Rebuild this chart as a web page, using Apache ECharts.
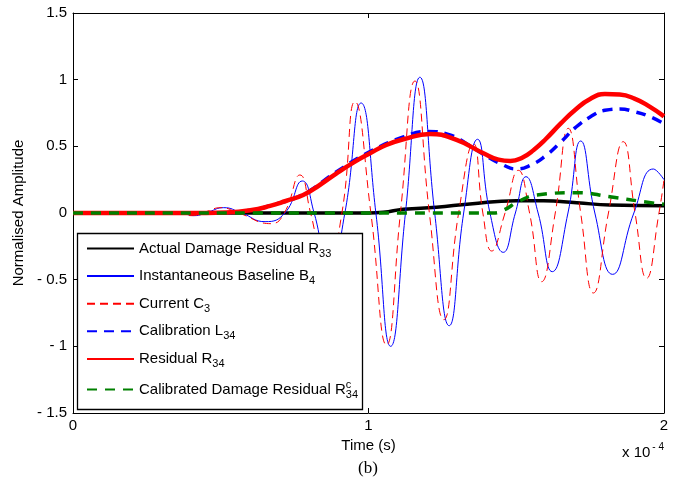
<!DOCTYPE html>
<html>
<head>
<meta charset="utf-8">
<script src="https://cdn.jsdelivr.net/npm/echarts@6/dist/echarts.min.js"></script>
<style>
html,body{margin:0;padding:0;background:#fff;}
#chart{width:677px;height:490px;}
</style>
</head>
<body>
<div id="chart"></div>
<script>
// ---- data (time in units of 1e-4 s) ----
const xTicks = [0, 1, 2];
const yTicks = [-1.5, -1, -0.5, 0, 0.5, 1, 1.5];

const seriesNames = [
  'Actual Damage Residual R33',
  'Instantaneous Baseline B4',
  'Current C3',
  'Calibration L34',
  'Residual R34',
  'Calibrated Damage Residual Rc34'
];

const timeR33 = [0, 1.0, 1.05, 1.118, 1.23, 1.343, 1.5, 1.592, 1.705, 1.817, 2.0];
const ampR33  = [0, 0, 0.005, 0.028, 0.043, 0.068, 0.092, 0.092, 0.077, 0.06, 0.055];

const timeB4 = [0, 0.30, 0.35, 0.41, 0.46, 0.51, 0.57, 0.65, 0.717, 0.776, 0.816, 0.868, 0.92, 0.975, 1.025, 1.075, 1.125, 1.174, 1.224, 1.273, 1.322, 1.369, 1.411, 1.456, 1.497, 1.533, 1.574, 1.622, 1.675, 1.718, 1.766, 1.826, 1.898, 1.964, 2.0];
const ampB4  = [0, 0, 0.01, -0.02, 0.01, 0.04, 0.0, -0.065, 0, 0.24, 0, -0.45, 0, 0.825, 0, -1.0, 0, 1.018, 0, -0.845, 0, 0.553, 0, -0.295, 0, 0.272, 0, -0.44, 0, 0.54, 0, -0.46, 0, 0.33, 0.25];

const timeC3 = [0, 0.30, 0.35, 0.40, 0.45, 0.50, 0.56, 0.67, 0.715, 0.768, 0.804, 0.857, 0.91, 0.954, 1.008, 1.061, 1.108, 1.157, 1.206, 1.255, 1.305, 1.355, 1.387, 1.417, 1.462, 1.507, 1.545, 1.586, 1.632, 1.676, 1.718, 1.761, 1.812, 1.862, 1.902, 1.941, 1.983, 2.0];
const ampC3  = [0, 0, 0.01, -0.02, 0.01, 0.04, 0, -0.08, 0, 0.285, 0, -0.45, 0, 0.835, 0, -0.99, 0, 0.99, 0, -0.80, 0, 0.52, 0, -0.285, 0, 0.32, 0, -0.515, 0, 0.635, 0, -0.60, 0, 0.535, 0, -0.49, 0, 0.25];

const timeL34 = [0, 0.45, 0.6, 0.667, 0.779, 0.892, 1.005, 1.118, 1.2, 1.27, 1.332, 1.389, 1.456, 1.50, 1.55, 1.60, 1.65, 1.70, 1.75, 1.80, 1.85, 1.90, 1.95, 2.0];
const ampL34  = [0, 0, 0.02, 0.055, 0.14, 0.31, 0.46, 0.57, 0.612, 0.59, 0.52, 0.44, 0.36, 0.33, 0.36, 0.43, 0.53, 0.64, 0.72, 0.77, 0.78, 0.76, 0.725, 0.67];

const timeR34 = [0, 0.45, 0.52, 0.6, 0.667, 0.72, 0.779, 0.835, 0.892, 0.95, 1.005, 1.06, 1.118, 1.208, 1.298, 1.389, 1.44, 1.48, 1.52, 1.56, 1.60, 1.65, 1.70, 1.75, 1.80, 1.85, 1.90, 1.95, 2.0];
const ampR34  = [0, 0, 0.003, 0.02, 0.053, 0.09, 0.135, 0.21, 0.298, 0.38, 0.448, 0.51, 0.553, 0.593, 0.548, 0.448, 0.40, 0.39, 0.415, 0.475, 0.555, 0.67, 0.775, 0.855, 0.892, 0.888, 0.858, 0.80, 0.725];

const timeRc34 = [0, 1.42, 1.456, 1.507, 1.569, 1.705, 1.817, 1.93, 2.0];
const ampRc34  = [0, 0, 0.02, 0.085, 0.135, 0.152, 0.122, 0.085, 0.065];

// ---- build ----
function pairs(xs, ys) { return xs.map((x, i) => [x, ys[i]]); }

const FONT = "'Liberation Sans', Arial, sans-serif";
const FS = 15;
const legendRich = {
  t: { fontSize: FS, fontFamily: FONT, color: '#000' },
  s: { fontSize: 11, fontFamily: FONT, color: '#000', padding: [10, 0, 0, 0] },
  p: { fontSize: 11, fontFamily: FONT, color: '#000', padding: [0, 0, 10, 0], width: 0 }
};
const legendLabels = {
  'Actual Damage Residual R33': '{t|Actual Damage Residual R}{s|33}',
  'Instantaneous Baseline B4': '{t|Instantaneous Baseline B}{s|4}',
  'Current C3': '{t|Current C}{s|3}',
  'Calibration L34': '{t|Calibration L}{s|34}',
  'Residual R34': '{t|Residual R}{s|34}',
  'Calibrated Damage Residual Rc34': '{t|Calibrated Damage Residual R}{p|c}{s|34}'
};

function mkSeries(name, xs, ys, color, width, dash) {
  return {
    name: name, type: 'line', data: pairs(xs, ys),
    symbol: 'none', smooth: 0.5, clip: true,
    lineStyle: { color: color, width: width, type: dash || 'solid', cap: 'butt' },
    itemStyle: { color: color },
    emphasis: { disabled: true }
  };
}

const series = [
  mkSeries(seriesNames[0], timeR33, ampR33, '#000000', 3.5),
  mkSeries(seriesNames[1], timeB4, ampB4, '#0000ff', 1),
  mkSeries(seriesNames[2], timeC3, ampC3, '#ff0000', 1, [8, 5]),
  mkSeries(seriesNames[3], timeL34, ampL34, '#0000ff', 3.5, [10, 7]),
  mkSeries(seriesNames[4], timeR34, ampR34, '#ff0000', 4.5),
  mkSeries(seriesNames[5], timeRc34, ampRc34, '#008000', 3.5, [10, 8])
];

const axisCommon = {
  axisLine: { show: true, onZero: false, lineStyle: { color: '#000', width: 1 } },
  axisTick: { show: true, inside: true, length: 5, lineStyle: { color: '#000' } },
  splitLine: { show: false }
};

const chart = echarts.init(document.getElementById('chart'), null, { renderer: 'canvas' });
chart.setOption({
  animation: false,
  backgroundColor: '#ffffff',
  grid: { left: 73, right: 13, top: 13, bottom: 77, containLabel: false },
  xAxis: [
    Object.assign({
      type: 'value', min: xTicks[0], max: xTicks[xTicks.length - 1], interval: 1, position: 'bottom',
      name: 'Time (s)', nameLocation: 'middle', nameGap: 20,
      nameTextStyle: { fontSize: FS, fontFamily: FONT, color: '#000' },
      axisLabel: { fontSize: FS, fontFamily: FONT, color: '#000', margin: 5 }
    }, axisCommon),
    Object.assign({
      type: 'value', min: xTicks[0], max: xTicks[xTicks.length - 1], interval: 1, position: 'top',
      axisLabel: { show: false }
    }, axisCommon)
  ],
  yAxis: [
    Object.assign({
      type: 'value', min: yTicks[0], max: yTicks[yTicks.length - 1], interval: 0.5, position: 'left',
      name: 'Normalised Amplitude', nameLocation: 'middle', nameGap: 45,
      nameTextStyle: { fontSize: FS, fontFamily: FONT, color: '#000' },
      axisLabel: {
        fontSize: FS, fontFamily: FONT, color: '#000', margin: 6,
        formatter: v => (v < 0 ? '- ' + Math.abs(v) : String(v))
      }
    }, axisCommon),
    Object.assign({
      type: 'value', min: yTicks[0], max: yTicks[yTicks.length - 1], interval: 0.5, position: 'right',
      axisLabel: { show: false }
    }, axisCommon)
  ],
  legend: {
    show: true, orient: 'vertical', left: 86, top: 241, padding: 0,
    itemWidth: 47, itemHeight: 14, itemGap: 9.6,
    z: 6,
    data: seriesNames,
    formatter: name => legendLabels[name],
    textStyle: { rich: legendRich, fontSize: FS, fontFamily: FONT, color: '#000' },
    itemStyle: { opacity: 0 },
    selectedMode: false
  },
  graphic: [
    { type: 'rect', z: 5, shape: { x: 77.5, y: 233.5, width: 285, height: 176 },
      style: { fill: '#ffffff', stroke: '#000000', lineWidth: 1.3 } },
    { type: 'text', z: 5, x: 664, y: 453,
      style: { text: '{a|x 10}{b|- 4}', align: 'right', verticalAlign: 'middle',
        rich: { a: { fontSize: FS, fontFamily: FONT, color: '#000' },
                b: { fontSize: 10, fontFamily: FONT, color: '#000', padding: [0, 0, 11, 2] } } } },
    { type: 'text', z: 5, x: 368, y: 469,
      style: { text: '(b)', align: 'center', verticalAlign: 'middle', fontSize: 17,
        fontFamily: "'Liberation Serif', 'Times New Roman', serif", fill: '#000' } }
  ],
  series: series
});
</script>
</body>
</html>
